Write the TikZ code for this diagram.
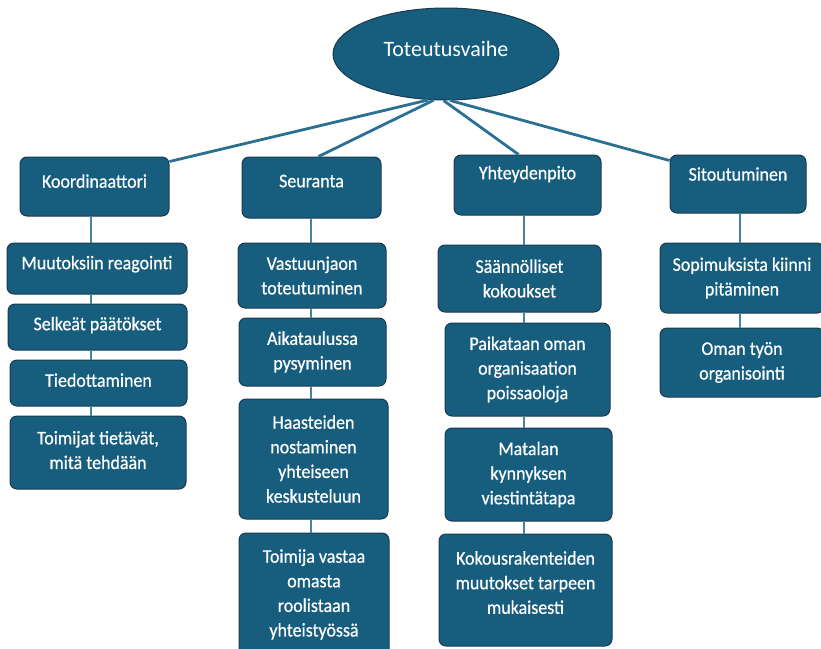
\documentclass[tikz,border=0pt]{standalone}
\usepackage{fontspec}
\setmainfont{Carlito}
\newfontfamily\boxfont{Carlito}[FakeStretch=0.93, FakeBold=0.6]
\usetikzlibrary{shapes.geometric}
\definecolor{boxfill}{RGB}{23,94,126}
\definecolor{boxedge}{RGB}{27,58,78}
\definecolor{linktop}{RGB}{42,112,145}
\definecolor{linkcol}{RGB}{72,132,162}
\begin{document}
\begin{tikzpicture}[x=1pt, y=-1pt,
  box/.style={draw=boxedge, line width=1pt, fill=boxfill, rounded corners=7pt,
    text=white, align=center, inner sep=0pt,
    font=\boxfont\fontsize{19.3}{24.6}\selectfont},
  lift/.style={text depth=#1pt},
  link/.style={linktop, line width=2.8pt},
  stem/.style={linkcol, line width=1.2pt}]
  \useasboundingbox (0,0) rectangle (821,648);
  \clip (0,0) rectangle (821,648);

  % Root
  \node[ellipse, draw=boxedge, line width=1pt, fill=boxfill, text=white,
    minimum width=226pt, minimum height=92pt, inner sep=0pt, text depth=10pt,
    font=\fontsize{22}{24}\selectfont] (top) at (446,54) {Toteutusvaihe};

  % Main branches
  \node[box, minimum width=149pt, minimum height=59pt, lift=11] (koord) at (94.5,186.5) {Koordinaattori};
  \node[box, minimum width=139pt, minimum height=61pt, lift=13] (seur) at (311.5,187.5) {Seuranta};
  \node[box, minimum width=147pt, minimum height=60pt, lift=25] (yht) at (527.5,185) {Yhteydenpito};
  \node[box, minimum width=136pt, minimum height=58pt, lift=20] (sit) at (738,184) {Sitoutuminen};

  \draw[link] (top.249) -- ([yshift=-5pt]koord.north east);
  \draw[link] (top.255) -- ([xshift=7pt]seur.north);
  \draw[link] (top.267) -- ([xshift=-9pt]yht.north);
  \draw[link] (top.275) -- ([yshift=-6pt]sit.north west);

  % Koordinaattori
  \node[box, minimum width=180pt, minimum height=51pt, lift=12] (muut) at (97,268.5) {Muutoksiin reagointi};
  \node[box, minimum width=179pt, minimum height=46pt, lift=7] (selk) at (97.5,327) {Selkeät päätökset};
  \node[box, minimum width=177pt, minimum height=46pt, lift=6] (tied) at (98.5,383) {Tiedottaminen};
  \node[box, minimum width=176pt, minimum height=73pt, lift=5] (toim) at (98,452.5) {Toimijat tietävät,\\mitä tehdään};

  % Seuranta
  \node[box, minimum width=148pt, minimum height=65pt] (vast) at (312,275.5) {Vastuunjaon\\toteutuminen};
  \node[box, minimum width=147pt, minimum height=68pt] (aika) at (312.5,352) {Aikataulussa\\pysyminen};
  \node[box, minimum width=149pt, minimum height=120pt] (haas) at (313.5,459) {Haasteiden\\nostaminen\\yhteiseen\\keskusteluun};
  \node[box, minimum width=150pt, minimum height=123pt] (toimv) at (314,594.5) {Toimija vastaa\\omasta\\roolistaan\\yhteistyössä};

  % Yhteydenpito
  \node[box, minimum width=163pt, minimum height=67pt] (saan) at (519.5,278.5) {Säännölliset\\kokoukset};
  \node[box, minimum width=165pt, minimum height=93pt] (paik) at (527.5,369.5) {Paikataan oman\\organisaation\\poissaoloja};
  \node[box, minimum width=167pt, minimum height=93pt] (mata) at (528.5,474.5) {Matalan\\kynnyksen\\viestintätapa};
  \node[box, minimum width=173pt, minimum height=112pt, lift=15] (koko) at (525.5,590) {Kokousrakenteiden\\muutokset tarpeen\\mukaisesti};

  % Sitoutuminen
  \node[box, minimum width=164pt, minimum height=70pt] (sop) at (742,278) {Sopimuksista kiinni\\pitäminen};
  \node[box, minimum width=164pt, minimum height=69pt] (oman) at (742,362.5) {Oman työn\\organisointi};

  % Stems
  \coordinate (c1) at (91,0);
  \coordinate (c2) at (311,0);
  \coordinate (c3) at (524,0);
  \coordinate (c4) at (740,0);
  \foreach \a/\b in {koord/muut, muut/selk, selk/tied, tied/toim}
    \draw[stem] (\a.south -| c1) -- (\b.north -| c1);
  \foreach \a/\b in {seur/vast, vast/aika, aika/haas, haas/toimv}
    \draw[stem] (\a.south -| c2) -- (\b.north -| c2);
  \foreach \a/\b in {yht/saan, saan/paik, paik/mata, mata/koko}
    \draw[stem] (\a.south -| c3) -- (\b.north -| c3);
  \foreach \a/\b in {sit/sop, sop/oman}
    \draw[stem] (\a.south -| c4) -- (\b.north -| c4);
\end{tikzpicture}
\end{document}
